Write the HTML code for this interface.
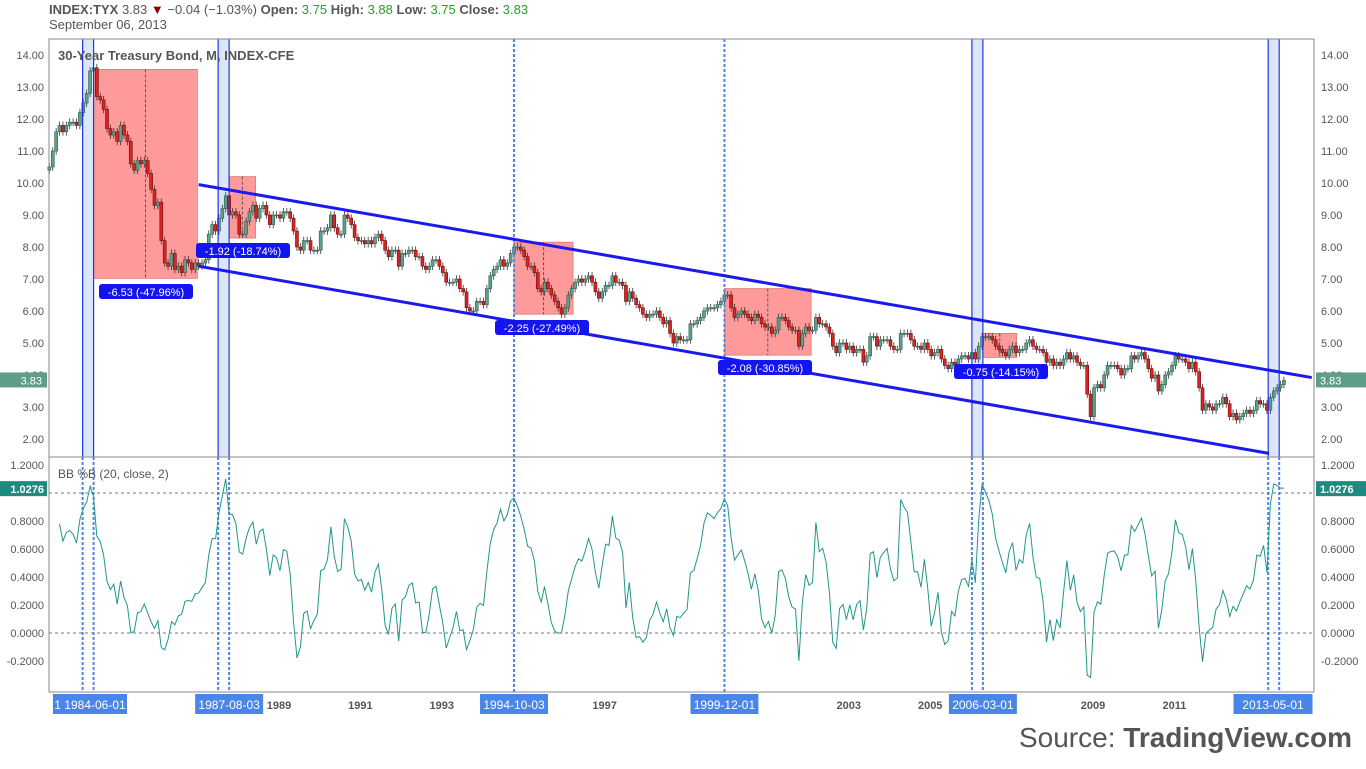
<!DOCTYPE html>
<html><head><meta charset="utf-8">
<style>
body{margin:0;background:#fff;font-family:"Liberation Sans",sans-serif;}
svg text{font-family:"Liberation Sans",sans-serif;}
</style></head><body>
<svg id="c" width="1366" height="764" xmlns="http://www.w3.org/2000/svg">
<rect width="1366" height="764" fill="#fff"/>
<g>
<text x="49" y="14" font-size="13" fill="#555"><tspan font-weight="bold">INDEX:TYX</tspan> 3.83 <tspan fill="#8b0000">▼</tspan> −0.04 (−1.03%)  <tspan font-weight="bold">Open:</tspan> <tspan fill="#2a9d2a">3.75</tspan>  <tspan font-weight="bold">High:</tspan> <tspan fill="#2a9d2a">3.88</tspan>  <tspan font-weight="bold">Low:</tspan> <tspan fill="#2a9d2a">3.75</tspan>  <tspan font-weight="bold">Close:</tspan> <tspan fill="#2a9d2a">3.83</tspan></text>
<text x="49" y="29" font-size="13" fill="#555">September 06, 2013</text>
</g>
<g id="bg"></g>
<g id="candles"></g>
<g id="over"></g>
<g id="bb"></g>
<g id="axes"></g>
<text x="1352" y="747" font-size="28" fill="#555" text-anchor="end">Source: <tspan font-weight="bold">TradingView.com</tspan></text>
</svg>
<script>
const closes = [
10.5,11.0,11.6,11.8,11.6,11.8,11.9,11.9,
11.8,12.2,12.5,12.8,13.5,13.6,12.7,12.6,12.3,11.7,11.5,11.6,
11.3,11.8,11.5,11.3,10.6,10.4,10.7,10.6,10.7,10.3,9.8,9.3,
9.4,8.2,7.5,7.4,7.8,7.3,7.4,7.2,7.6,7.5,7.3,7.5,
7.4,7.5,7.6,8.4,8.7,8.5,8.9,9.2,9.6,9.0,9.1,9.0,
8.4,8.4,8.8,9.1,9.3,8.9,9.2,9.3,9.0,8.7,9.0,9.0,
8.9,9.1,9.1,8.9,8.5,8.0,7.9,8.2,8.2,7.9,7.9,7.9,
8.5,8.5,8.6,9.0,8.6,8.4,8.4,9.0,8.9,8.7,8.3,8.2,
8.2,8.1,8.2,8.1,8.3,8.4,8.2,7.9,7.7,7.9,7.9,7.4,
7.8,7.8,7.9,7.9,7.7,7.7,7.4,7.3,7.4,7.6,7.6,7.4,
7.2,6.9,6.9,6.9,7.0,6.7,6.6,6.1,6.0,6.0,6.3,6.3,
6.2,6.7,7.1,7.3,7.4,7.6,7.4,7.5,7.8,8.0,8.0,7.9,
7.7,7.4,7.4,7.2,6.7,6.6,6.9,6.7,6.5,6.3,6.1,5.9,
6.1,6.5,6.7,6.9,7.0,6.9,7.0,7.1,6.9,6.6,6.4,6.6,
6.8,6.8,7.1,6.9,6.9,6.8,6.3,6.6,6.4,6.2,6.1,5.9,
5.8,5.9,5.9,6.0,5.8,5.6,5.7,5.3,5.0,5.2,5.1,5.1,
5.1,5.6,5.6,5.7,5.8,6.0,6.1,6.1,6.1,6.2,6.3,6.5,
6.5,6.1,5.8,5.9,6.0,5.9,5.8,5.7,5.9,5.8,5.6,5.5,
5.5,5.3,5.4,5.8,5.8,5.7,5.5,5.4,5.4,4.9,5.3,5.5,
5.4,5.4,5.8,5.6,5.6,5.5,5.3,4.9,4.7,5.0,5.0,4.8,
4.9,4.7,4.8,4.8,4.4,4.6,5.2,5.2,4.9,5.1,5.1,5.1,
4.9,4.8,4.8,5.3,5.3,5.3,5.1,4.9,4.9,4.8,5.0,4.8,
4.6,4.7,4.8,4.5,4.3,4.2,4.4,4.3,4.5,4.6,4.6,4.5,
4.7,4.5,4.9,5.2,5.2,5.2,5.1,4.9,4.8,4.7,4.6,4.8,
4.9,4.7,4.8,4.8,5.0,5.1,4.9,4.8,4.8,4.7,4.4,4.5,
4.3,4.4,4.3,4.5,4.7,4.5,4.6,4.4,4.3,4.3,3.4,2.7,
3.6,3.7,3.6,4.0,4.3,4.3,4.3,4.2,4.0,4.2,4.2,4.6,
4.5,4.6,4.7,4.5,4.2,3.9,4.0,3.5,3.7,4.0,4.1,4.3,
4.6,4.5,4.5,4.4,4.2,4.4,4.1,3.6,2.9,3.1,3.0,2.9,
3.1,3.1,3.3,3.1,2.7,2.8,2.6,2.7,2.8,2.9,2.8,2.9,
3.2,3.1,3.1,2.9,3.3,3.5,3.6,3.7,3.83];
const startYear = 1983 + 4/12;
const priceTicks = [14,13,12,11,10,9,8,7,6,5,4,3,2];
const bbTicks = [1.2,0.8,0.6,0.4,0.2,0,-0.2];
const yearTicks = [1989,1991,1993,1997,2003,2005,2009,2011];
const eventDates = [1984.42,1987.75,1994.75,1999.92,2006.27,2013.55];
const eventLabels = ['1  1984-06-01','1987-08-03','1994-10-03','1999-12-01','2006-03-01','2013-05-01'];
const drops = [[1984.42,13.55,1986.97,7.02,'-6.53 (-47.96%)'],[1987.75,10.2,1988.4,8.28,'-1.92 (-18.74%)'],[1994.75,8.15,1996.2,5.9,'-2.25 (-27.49%)'],[1999.92,6.7,2002.05,4.62,'-2.08 (-30.85%)'],[2006.27,5.3,2007.1,4.55,'-0.75 (-14.15%)']];
const channel = [[1987.0,9.95,2014.35,3.92],[1987.0,7.4,2013.3,1.55]];

const NS='http://www.w3.org/2000/svg';
const X = t => 280 + (t-1989)*40.7;
const Y = v => 55 + (14-v)*32;
const YB = v => 633 - v*140;
function el(p,tag,a){const e=document.createElementNS(NS,tag);for(const k in a)e.setAttribute(k,a[k]);p.appendChild(e);return e;}
const bg=document.getElementById('bg'),cg=document.getElementById('candles'),ov=document.getElementById('over'),bbg=document.getElementById('bb'),ax=document.getElementById('axes');

let f=el(ax,'rect',{x:49,y:39,width:1265,height:653,fill:'none',stroke:'#888','stroke-width':1});


let sep=el(ax,'line',{x1:49,x2:1314,y1:457,y2:457,stroke:'#888'});



eventDates.forEach((d,i)=>{
  const x0=X(d)-11,x1=X(d);
  const b=el(bg,'rect',{x:x0,y:39,width:x1-x0,height:418,fill:'#dbe6f7'});
  
  
  if(i!==2&&i!==3){
    [x0,x1].forEach(x=>{const l=el(ov,'line',{x1:x,x2:x,y1:39,y2:457,stroke:'#2233ee','stroke-width':1.2});
    
    
    const d2=el(ov,'line',{x1:x,x2:x,y1:457,y2:692,stroke:'#4a86e8','stroke-width':2,'stroke-dasharray':'3,2'});
    
    });
  } else {
    b.setAttribute('fill','none');
    const l=el(ov,'line',{x1:x1,x2:x1,y1:39,y2:692,stroke:'#4a86e8','stroke-width':2,'stroke-dasharray':'3,2'});
    
    
  }
});
drops.forEach(d=>{
  const x0=X(d[0]),x1=X(d[2]),y0=Y(d[1]),y1=Y(d[3]);
  const r=el(bg,'rect',{x:x0,y:y0,width:x1-x0,height:y1-y0,fill:'#ff9a9a',stroke:'#d77','stroke-width':0.8});
  
  
  const l=el(ov,'line',{x1:(x0+x1)/2,x2:(x0+x1)/2,y1:y0,y2:y1,stroke:'#555','stroke-dasharray':'3,2'});
  
  
});
channel.forEach(c=>{
  const l=el(ov,'line',{x1:X(c[0]),y1:Y(c[1]),x2:X(c[2]),y2:Y(c[3]),stroke:'#1a1aee','stroke-width':3});
  
  
});
const lblPos=[[146,292],[243,251],[542,328],[765,368],[1001,372]];
drops.forEach((d,i)=>{
  const g=el(ov,'g',{});
  
  
  el(g,'rect',{x:lblPos[i][0]-47,y:lblPos[i][1]-8,width:94,height:15,rx:3,fill:'#1414f0'});
  const t=el(g,'text',{x:lblPos[i][0],y:lblPos[i][1]+4,'font-size':11,fill:'#fff','text-anchor':'middle'});
  t.textContent=d[4];
});
let prev=closes[0]-0.1;
closes.forEach((c,i)=>{
  const t=startYear+i/12,x=X(t),o=prev;
  const hi=Math.max(o,c)+0.12,lo=Math.min(o,c)-0.12;
  const up=c>=o;
  const w=el(cg,'line',{x1:x,x2:x,y1:Y(hi),y2:Y(lo),stroke:'#333','stroke-width':0.8});
  
  
  const b=el(cg,'rect',{x:x-1.5,y:Y(Math.max(o,c)),width:3,height:Math.max(1,Math.abs(Y(o)-Y(c))),fill:up?'#5fa08a':'#d22',stroke:up?'#2e5e50':'#6a1010','stroke-width':0.6});
  
  
  prev=c;
});
let pts=[];
closes.forEach((c,i)=>{
  if(i<3)return;
  const w=closes.slice(Math.max(0,i-19),i+1);
  const m=w.reduce((a,b)=>a+b,0)/w.length;
  const sd=Math.sqrt(w.reduce((a,b)=>a+(b-m)*(b-m),0)/w.length)||0.01;
  const pb=(c-(m-2*sd))/(4*sd);
  pts.push(X(startYear+i/12).toFixed(1)+','+YB(pb).toFixed(1));
});
const bl=el(bbg,'polyline',{points:pts.join(' '),fill:'none',stroke:'#21968c','stroke-width':1});


[1.0,0].forEach(v=>{const l=el(bbg,'line',{x1:49,x2:1314,y1:YB(v),y2:YB(v),stroke:'#777','stroke-dasharray':'3,3'});

});
let bt=el(bbg,'text',{x:58,y:478,'font-size':12,fill:'#555'});bt.textContent='BB %B (20, close, 2)';


let pt=el(ax,'text',{x:58,y:60,'font-size':13,'font-weight':'bold',fill:'#555'});pt.textContent='30-Year Treasury Bond, M, INDEX-CFE';


priceTicks.forEach(v=>{
  [[44,'end'],[1321,'start']].forEach(s=>{
    const t=el(ax,'text',{x:s[0],y:Y(v)+4,'font-size':11,fill:'#555','text-anchor':s[1]});t.textContent=v.toFixed(2);
    
    
  });
});
bbTicks.forEach(v=>{
  [[44,'end'],[1321,'start']].forEach(s=>{
    const t=el(ax,'text',{x:s[0],y:YB(v)+4,'font-size':11,fill:'#555','text-anchor':s[1]});t.textContent=v.toFixed(4);
    
    
  });
});
yearTicks.forEach(y=>{
  const t=el(ax,'text',{x:X(y)-1,y:709,'font-size':11,'font-weight':'bold',fill:'#555','text-anchor':'middle'});t.textContent=y;
  
  
});
[[0,'end'],[1316,'start']].forEach(s=>{
  const g=el(ax,'g',{});
  
  
  el(g,'rect',{x:s[0],y:Y(3.83)-8,width:s[0]?50:47,height:15,fill:'#5e9d86'});
  const t=el(g,'text',{x:s[0]?1320:42,y:Y(3.83)+4,'font-size':11,fill:'#fff','text-anchor':s[1]});t.textContent='3.83';
  const g2=el(ax,'g',{});
  
  
  el(g2,'rect',{x:s[0],y:YB(1.0276)-8,width:s[0]?50:47,height:15,fill:'#1f8a80'});
  const t2=el(g2,'text',{x:s[0]?1320:44,y:YB(1.0276)+4,'font-size':11,'font-weight':'bold',fill:'#fff','text-anchor':s[1]});t2.textContent='1.0276';
});
eventDates.forEach((d,i)=>{
  const g=el(ax,'g',{});
  
  
  const x=X(d);
  const w=i===0?74:(i===5?79:68);
  const cx=i===0?90:(i===5?1273:x);
  el(g,'rect',{x:cx-w/2,y:694,width:w,height:20,fill:'#4a86e8'});
  const t=el(g,'text',{x:cx,y:709,'font-size':12,fill:'#fff','text-anchor':'middle'});t.textContent=eventLabels[i];
});
</script>
</body></html>
